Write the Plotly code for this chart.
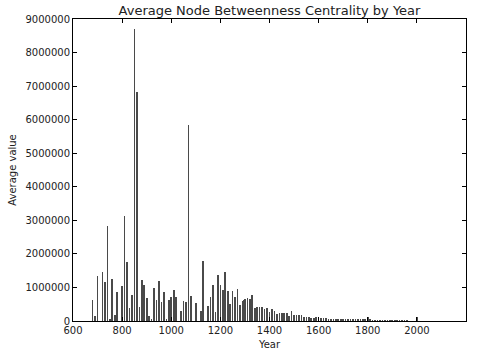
import plotly.graph_objects as go

years = [680, 690, 700, 720, 730, 740, 750, 760, 770, 780,
         800, 810, 820, 830, 840, 850, 860, 870, 880, 890,
         900, 910, 920, 930, 940, 950, 960, 970, 980, 990,
         1000, 1010, 1020, 1040, 1050, 1060, 1070, 1080, 1100, 1120,
         1130, 1150, 1160, 1170, 1180, 1190, 1200, 1210, 1220, 1230,
         1240, 1250, 1260, 1270, 1280, 1290, 1295, 1300, 1310, 1320,
         1330, 1340, 1350, 1360, 1370, 1380, 1390, 1400, 1410, 1420,
         1430, 1440, 1450, 1460, 1470, 1480, 1490, 1500, 1510, 1520,
         1530, 1540, 1550, 1560, 1570, 1580, 1590, 1600, 1610, 1620,
         1630, 1640, 1650, 1660, 1670, 1680, 1690, 1700, 1710, 1720,
         1730, 1740, 1750, 1760, 1770, 1780, 1790, 1800, 1810, 1820,
         1830, 1840, 1850, 1860, 1870, 1880, 1890, 1900, 1910, 1920,
         1930, 1940, 1950, 1960, 2000]

values = [626000, 140000, 1340000, 1470000, 1160000, 2830000, 30000, 1265000, 190000, 855000,
          1050000, 3135000, 1770000, 380000, 765000, 8700000, 6830000, 430000, 1230000, 1070000,
          680000, 150000, 30000, 990000, 626000, 1205000, 560000, 875000, 30000, 626000,
          720000, 925000, 715000, 290000, 610000, 560000, 5840000, 745000, 535000, 300000,
          1800000, 447000, 725000, 1070000, 270000, 1370000, 1070000, 915000, 1460000, 905000,
          507000, 905000, 725000, 965000, 467000, 605000, 635000, 647000, 695000, 665000,
          775000, 380000, 410000, 430000, 430000, 360000, 380000, 280000, 350000, 300000,
          220000, 250000, 250000, 250000, 240000, 160000, 300000, 180000, 180000, 175000,
          170000, 130000, 130000, 120000, 100000, 100000, 110000, 90000, 100000, 80000,
          75000, 70000, 65000, 60000, 60000, 55000, 50000, 50000, 45000, 50000,
          45000, 40000, 45000, 40000, 35000, 40000, 30000, 110000, 30000, 25000,
          20000, 20000, 15000, 15000, 10000, 10000, 10000, 8000, 8000, 6000,
          6000, 5000, 5000, 4000, 130000]

x_ticks = [600, 800, 1000, 1200, 1400, 1600, 1800, 2000, 2200]
y_ticks = [0, 1000000, 2000000, 3000000, 4000000, 5000000, 6000000, 7000000, 8000000, 9000000]

font_family = "DejaVu Sans"

fig = go.Figure(
    go.Bar(
        x=years,
        y=values,
        width=2.6,
        marker=dict(color="#4a4a4a", line=dict(width=0)),
    )
)

axis_common = dict(
    ticks="inside",
    ticklen=4,
    tickcolor="#000000",
    showline=True,
    linecolor="#000000",
    linewidth=1,
    mirror="ticks",
    showgrid=False,
    zeroline=False,
    automargin=False,
    tickfont=dict(family=font_family, size=10, color="#222222"),
)

fig.update_layout(
    width=477,
    height=356,
    margin=dict(l=73, r=11, t=19, b=35),
    paper_bgcolor="white",
    plot_bgcolor="white",
    showlegend=False,
    bargap=0,
    title=dict(
        text="Average Node Betweenness Centrality by Year",
        x=(73 + 466) / 2 / 477,
        xanchor="center",
        y=1 - 10 / 356,
        yanchor="middle",
        font=dict(family=font_family, size=13, color="#222222"),
    ),
    xaxis=dict(
        range=[600, 2200],
        tickvals=x_ticks,
        ticktext=[str(v) for v in x_ticks],
        title=dict(text="Year", font=dict(family=font_family, size=10, color="#222222"), standoff=5),
        **axis_common,
    ),
    yaxis=dict(
        range=[0, 9000000],
        tickvals=y_ticks,
        ticktext=[str(v) for v in y_ticks],
        title=dict(text="Average value", font=dict(family=font_family, size=10, color="#222222"), standoff=6),
        **axis_common,
    ),
)

fig.write_html(
    "out.html",
    config={"displayModeBar": False},
    post_script="document.body.style.margin='0px';",
)
